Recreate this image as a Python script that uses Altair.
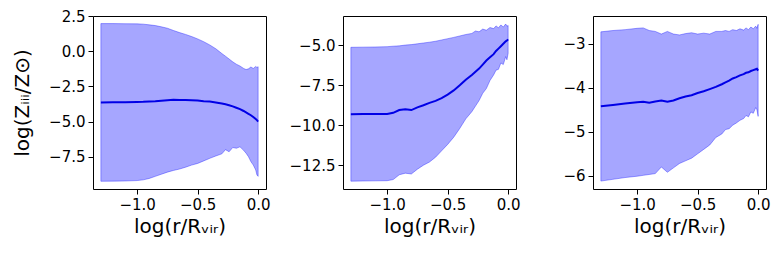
import altair as alt
import pandas as pd

# shared radial grid, log(r / R_vir)
x_vals = [-1.30, -1.2, -1.1, -1.0, -0.95, -0.9, -0.85, -0.8, -0.75, -0.7, -0.65, -0.6,
          -0.55, -0.5, -0.45, -0.4, -0.35, -0.3, -0.27, -0.24, -0.21, -0.18, -0.15,
          -0.12, -0.1, -0.08, -0.06, -0.04, -0.02, -0.01, 0.0]

# panel 1
p1_upper = [1.97, 1.97, 1.96, 1.95, 1.93, 1.88, 1.83, 1.74, 1.64, 1.48, 1.33, 1.20,
            1.05, 0.88, 0.68, 0.45, 0.18, -0.16, -0.35, -0.55, -0.75, -0.92, -1.05,
            -1.22, -1.30, -1.25, -1.12, -1.22, -1.08, -1.15, -1.10]
p1_lower = [-9.25, -9.24, -9.23, -9.20, -9.15, -9.05, -8.90, -8.75, -8.60, -8.48, -8.38, -8.25,
            -8.10, -7.98, -7.80, -7.62, -7.45, -7.30, -7.00, -7.15, -6.85, -6.90, -6.80,
            -7.05, -7.25, -7.50, -7.85, -8.10, -8.45, -8.80, -8.90]
p1_median = [-3.64, -3.63, -3.62, -3.61, -3.60, -3.58, -3.56, -3.52, -3.48, -3.45, -3.46, -3.47,
             -3.48, -3.50, -3.55, -3.58, -3.64, -3.72, -3.77, -3.84, -3.92, -4.02, -4.12,
             -4.25, -4.35, -4.45, -4.55, -4.68, -4.82, -4.90, -5.00]

# panel 2
p2_upper = [-5.12, -5.11, -5.10, -5.08, -5.05, -5.03, -4.98, -4.95, -4.90, -4.85, -4.80, -4.74,
            -4.66, -4.58, -4.50, -4.41, -4.32, -4.25, -4.10, -4.15, -3.98, -4.05, -3.88,
            -3.95, -3.78, -3.90, -3.72, -3.85, -3.66, -3.80, -3.75]
p2_lower = [-13.50, -13.49, -13.48, -13.47, -13.40, -13.10, -13.00, -13.05, -12.75, -12.50, -12.30, -12.00,
            -11.60, -11.20, -10.75, -10.20, -9.60, -9.15, -8.80, -8.45, -8.00, -7.70, -7.20,
            -6.85, -6.55, -6.50, -6.10, -6.20, -5.70, -5.90, -5.50]
p2_median = [-9.31, -9.30, -9.30, -9.29, -9.22, -9.05, -9.00, -9.05, -8.88, -8.75, -8.60, -8.47,
             -8.30, -8.08, -7.82, -7.50, -7.15, -6.85, -6.65, -6.45, -6.20, -5.95, -5.75,
             -5.55, -5.35, -5.20, -5.05, -4.90, -4.75, -4.70, -4.62]

# panel 3
p3_upper = [-2.73, -2.70, -2.68, -2.65, -2.64, -2.70, -2.72, -2.78, -2.72, -2.78, -2.80, -2.77,
            -2.75, -2.78, -2.76, -2.78, -2.72, -2.72, -2.70, -2.72, -2.68, -2.70, -2.66,
            -2.69, -2.64, -2.68, -2.62, -2.66, -2.60, -2.65, -2.56]
p3_lower = [-6.12, -6.08, -6.04, -6.01, -5.99, -5.97, -5.95, -5.80, -5.92, -5.82, -5.72, -5.66,
            -5.60, -5.50, -5.40, -5.30, -5.13, -5.05, -4.95, -4.93, -4.85, -4.80, -4.74,
            -4.70, -4.63, -4.66, -4.55, -4.58, -4.45, -4.50, -4.65]
p3_median = [-4.42, -4.39, -4.36, -4.33, -4.32, -4.34, -4.31, -4.29, -4.32, -4.29, -4.24, -4.20,
             -4.17, -4.12, -4.08, -4.03, -3.98, -3.92, -3.88, -3.84, -3.79, -3.76, -3.72,
             -3.69, -3.66, -3.65, -3.62, -3.60, -3.58, -3.57, -3.61]

x_ticks = [-1.0, -0.5, 0.0]
x_title = "log(r/Rᵥᵢᵣ)"
y_title = "log(Zᵢᵢᵢ/Z⊙)"

x_domain = [-1.365, 0.065]


def panel(upper, lower, median, ydom, yticks, yfmt, ytitle):
    df = pd.DataFrame({"x": x_vals, "upper": upper, "lower": lower, "median": median})
    xscale = alt.Scale(domain=x_domain, nice=False, zero=False)
    yscale = alt.Scale(domain=ydom, nice=False, zero=False)
    yaxis_kw = dict(values=yticks, format=yfmt, minExtent=56, maxExtent=56)
    if ytitle:
        yaxis = alt.Axis(title=ytitle, titlePadding=5, **yaxis_kw)
    else:
        yaxis = alt.Axis(title=None, **yaxis_kw)
    band = alt.Chart(df).mark_area(
        fill="blue", fillOpacity=0.35, stroke="blue", strokeOpacity=0.35, strokeWidth=1
    ).encode(
        x=alt.X("x:Q", scale=xscale,
                axis=alt.Axis(values=x_ticks, format=".1f", title=x_title)),
        y=alt.Y("lower:Q", scale=yscale, axis=yaxis),
        y2="upper:Q",
    )
    line = alt.Chart(df).mark_line(color="#0000e6", strokeWidth=2).encode(
        x=alt.X("x:Q", scale=xscale),
        y=alt.Y("median:Q", scale=yscale),
    )
    return alt.layer(band, line).properties(width=173, height=173)


c1 = panel(p1_upper, p1_lower, p1_median, [-9.8, 2.51], [2.5, 0.0, -2.5, -5.0, -7.5], ".1f", y_title)
c2 = panel(p2_upper, p2_lower, p2_median, [-13.99, -3.16], [-5.0, -7.5, -10.0, -12.5], ".1f", None)
c3 = panel(p3_upper, p3_lower, p3_median, [-6.3, -2.37], [-3, -4, -5, -6], "d", None)

chart = alt.hconcat(c1, c2, c3, spacing=15).properties(
    padding={"left": 3, "top": 0, "right": 0, "bottom": 0}
).configure(font="DejaVu Sans").configure_axis(
    grid=False,
    domain=False,
    labelFontSize=15,
    labelColor="black",
    labelFont="DejaVu Sans",
    titleFontSize=20,
    titleFontWeight="normal",
    titleColor="black",
    titleFont="DejaVu Sans",
    tickColor="black",
    tickSize=5,
    labelPadding=3,
).configure_view(stroke="black", strokeWidth=1)

chart.save("out.html", embed_options={"renderer": "svg", "actions": False})
